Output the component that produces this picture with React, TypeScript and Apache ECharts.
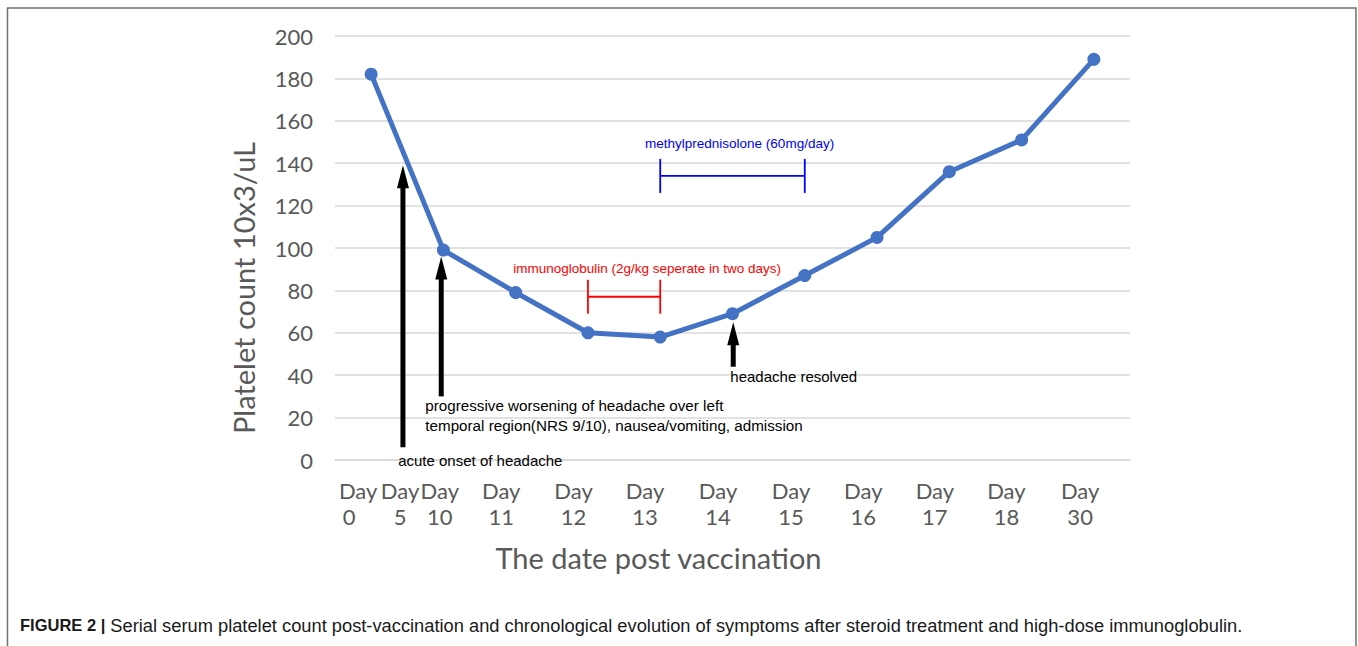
import React, { useEffect, useRef } from "react";
import * as echarts from "echarts";

// ---- data ----
const categories = ["Day 0", "Day 10", "Day 11", "Day 12", "Day 13", "Day 14", "Day 15", "Day 16", "Day 17", "Day 18", "Day 30"];
const plateletCounts = [182, 99, 79, 60, 58, 69, 87, 105, 136, 151, 189];
// tick labels as printed under the axis, with where each one sits (category-index units)
const tickLabels = ["Day 0", "Day 5", "Day 10", "Day 11", "Day 12", "Day 13", "Day 14", "Day 15", "Day 16", "Day 17", "Day 18", "Day 30"];
const tickLabelAt = [-0.18, 0.4, 0.95, 1.8, 2.8, 3.79, 4.8, 5.81, 6.81, 7.8, 8.79, 9.81];
const yMin = 0;
const yMax = 200;
const yInterval = 20;

// ---- annotations (x in category-index units, y in platelet units) ----
const arrows = [
  { x: 0.44, from: 6, to: 139 },
  { x: 0.97, from: 30, to: 96 },
  { x: 5.01, from: 44, to: 65 },
];
const brackets = [
  { from: 3, to: 4, y: 77, color: "#ff0000" },
  { from: 4, to: 6, y: 134, color: "#0000ff" },
];
const notes = [
  { x: 0.374, y: 0, text: "acute onset of headache", color: "#000000", size: 15 },
  {
    x: 0.75,
    y: 21.2,
    text: "progressive worsening of headache over left\ntemporal region(NRS 9/10), nausea/vomiting, admission",
    color: "#000000",
    size: 15.2,
  },
  { x: 4.97, y: 39.6, text: "headache resolved", color: "#000000", size: 15 },
  { x: 1.965, y: 90.1, text: "immunoglobulin (2g/kg seperate in two days)", color: "#ff0000", size: 13.5 },
  { x: 3.79, y: 149.5, text: "methylprednisolone (60mg/day)", color: "#0000ff", size: 13.5 },
];

const LABEL_FONT = "Lato, 'Open Sans', sans-serif";
const NOTE_FONT = "'Liberation Sans', Arial, sans-serif";
const GREY = "#595959";

export default function App() {
  const ref = useRef<HTMLDivElement>(null);

  useEffect(() => {
    if (!ref.current) return;
    const chart = echarts.init(ref.current, undefined, { renderer: "svg" });

    const tok = { fontFamily: LABEL_FONT, fontSize: 22, lineHeight: 26.5, color: GREY };

    const option: any = {
      animation: false,
      backgroundColor: "#ffffff",
      grid: { left: 335, right: 228, top: 36, bottom: 186, containLabel: false },
      xAxis: [
        {
          type: "category",
          position: "bottom",
          data: categories,
          boundaryGap: true,
          axisLine: { show: true, lineStyle: { color: "#d9d9d9", width: 1.5 } },
          axisTick: { show: false },
          axisLabel: { show: false },
          splitLine: { show: false },
          name: "The date post vaccination",
          nameLocation: "middle",
          nameGap: 83,
          nameTextStyle: {
            fontFamily: LABEL_FONT,
            fontSize: 29,
            color: GREY,
            padding: [0, 148, 0, 0],
          },
        },
        {
          type: "value",
          position: "bottom",
          min: -0.5,
          max: 10.5,
          axisLine: { show: false },
          axisTick: { show: false },
          splitLine: { show: false },
          axisLabel: {
            show: true,
            margin: 17,
            hideOverlap: false,
            showMinLabel: true,
            showMaxLabel: true,
            customValues: tickLabelAt,
            ...tok,
            formatter: (v: number) => {
              const i = tickLabelAt.findIndex((t) => Math.abs(t - v) < 1e-6);
              if (i < 0) return "";
              const [w, n] = tickLabels[i].split(" ");
              if (i === 0) return `{t|${w}}\n{z|${n}}`;
              return `{t|${w}}\n{t|${n}}`;
            },
            rich: {
              t: { ...tok },
              z: { ...tok, padding: [0, 18, 0, 0] },
            },
          },
        },
      ],
      yAxis: {
        type: "value",
        min: yMin,
        max: yMax,
        interval: yInterval,
        axisLine: { show: false },
        axisTick: { show: false },
        axisLabel: { margin: 22, fontFamily: LABEL_FONT, fontSize: 22, color: GREY },
        splitLine: { show: true, lineStyle: { color: "#d9d9d9", width: 1.5 } },
        name: "Platelet count 10x3/uL",
        nameLocation: "middle",
        nameGap: 77,
        nameTextStyle: {
          fontFamily: LABEL_FONT,
          fontSize: 29,
          color: GREY,
          padding: [0, 80, 0, 0],
        },
      },
      series: [
        {
          type: "line",
          name: "Platelet count",
          data: plateletCounts,
          xAxisIndex: 0,
          yAxisIndex: 0,
          symbol: "circle",
          symbolSize: 13,
          lineStyle: { color: "#4472c4", width: 5 },
          itemStyle: { color: "#4472c4" },
          z: 3,
        },
        {
          type: "custom",
          name: "arrows",
          xAxisIndex: 1,
          yAxisIndex: 0,
          silent: true,
          z: 4,
          data: arrows.map((a) => [a.x, a.to]),
          encode: { x: 0, y: 1 },
          renderItem: (params: any, api: any) => {
            const a = arrows[params.dataIndex];
            const base = api.coord([a.x, a.from]);
            const tip = api.coord([a.x, a.to]);
            const headH = 23;
            const headW = 12;
            const shaft = 5;
            return {
              type: "group",
              children: [
                {
                  type: "rect",
                  shape: {
                    x: tip[0] - shaft / 2,
                    y: tip[1] + headH - 1,
                    width: shaft,
                    height: base[1] - tip[1] - headH + 1,
                  },
                  style: { fill: "#000000" },
                },
                {
                  type: "polygon",
                  shape: {
                    points: [
                      [tip[0], tip[1]],
                      [tip[0] - headW / 2, tip[1] + headH],
                      [tip[0] + headW / 2, tip[1] + headH],
                    ],
                  },
                  style: { fill: "#000000" },
                },
              ],
            };
          },
        },
        {
          type: "custom",
          name: "brackets",
          xAxisIndex: 1,
          yAxisIndex: 0,
          silent: true,
          z: 4,
          data: brackets.map((b) => [b.from, b.y]),
          encode: { x: 0, y: 1 },
          renderItem: (params: any, api: any) => {
            const b = brackets[params.dataIndex];
            const p1 = api.coord([b.from, b.y]);
            const p2 = api.coord([b.to, b.y]);
            const h = 17;
            const st = { stroke: b.color, lineWidth: 1.8, fill: "none" };
            return {
              type: "group",
              children: [
                { type: "line", shape: { x1: p1[0], y1: p1[1], x2: p2[0], y2: p2[1] }, style: st },
                { type: "line", shape: { x1: p1[0], y1: p1[1] - h, x2: p1[0], y2: p1[1] + h }, style: st },
                { type: "line", shape: { x1: p2[0], y1: p2[1] - h, x2: p2[0], y2: p2[1] + h }, style: st },
              ],
            };
          },
        },
        {
          type: "custom",
          name: "notes",
          xAxisIndex: 1,
          yAxisIndex: 0,
          silent: true,
          z: 5,
          data: notes.map((n) => [n.x, n.y]),
          encode: { x: 0, y: 1 },
          renderItem: (params: any, api: any) => {
            const n = notes[params.dataIndex];
            const p = api.coord([n.x, n.y]);
            return {
              type: "text",
              x: p[0],
              y: p[1],
              style: {
                text: n.text,
                fill: n.color,
                fontFamily: NOTE_FONT,
                fontSize: n.size,
                lineHeight: 20,
                align: "left",
                verticalAlign: "middle",
                textAlign: "left",
                textVerticalAlign: "middle",
              },
            };
          },
        },
      ],
      graphic: [
        {
          type: "rect",
          silent: true,
          z: -1,
          shape: { x: 7.5, y: 8, width: 1348.5, height: 700 },
          style: { fill: "none", stroke: "#707070", lineWidth: 1.5 },
        },
        {
          type: "text",
          left: 20,
          top: 616,
          silent: true,
          style: {
            text: "{b|FIGURE 2 |} {r|Serial serum platelet count post-vaccination and chronological evolution of symptoms after steroid treatment and high-dose immunoglobulin.}",
            rich: {
              b: { fontFamily: NOTE_FONT, fontSize: 16.5, fontWeight: "bold", fill: "#1a1a1a" },
              r: { fontFamily: NOTE_FONT, fontSize: 18.3, fill: "#1a1a1a" },
            },
            fontFamily: NOTE_FONT,
            fontSize: 18,
            fill: "#1a1a1a",
          },
        },
      ],
    };

    chart.setOption(option);
    return () => chart.dispose();
  }, []);

  return (
    <div
      ref={ref}
      style={{ position: "absolute", left: 0, top: 0, width: 1358, height: 646, background: "#fff" }}
    />
  );
}
